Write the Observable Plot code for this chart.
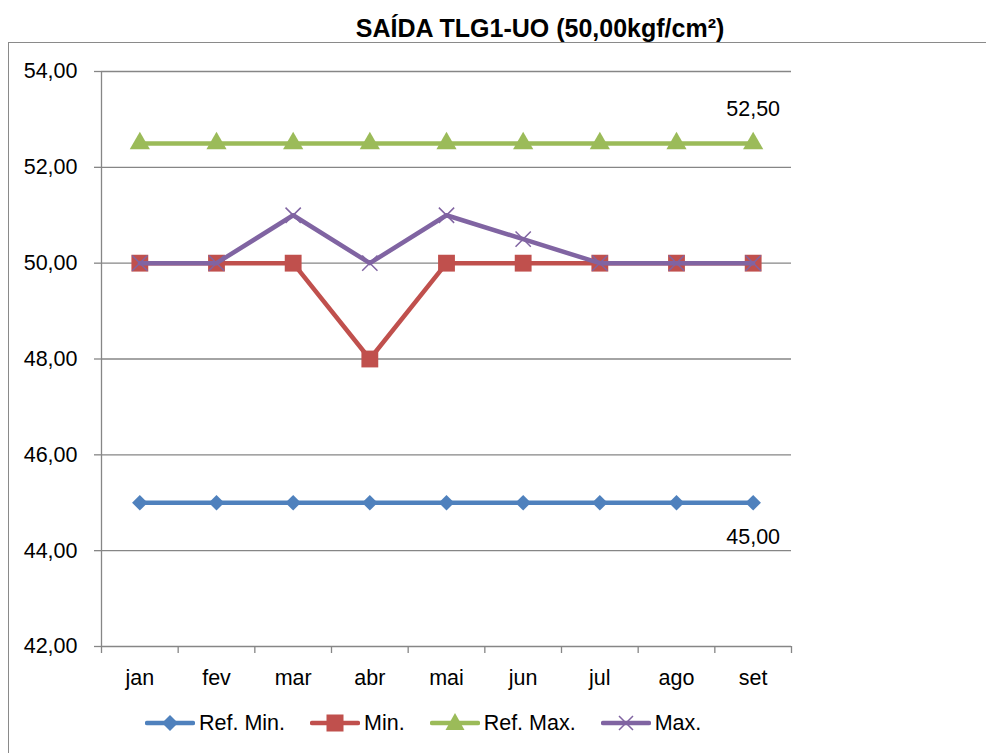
<!DOCTYPE html>
<html>
<head>
<meta charset="utf-8">
<script src="https://cdn.jsdelivr.net/npm/d3@7"></script>
<script src="https://cdn.jsdelivr.net/npm/@observablehq/plot@0.6"></script>
<style>
  html, body { margin: 0; padding: 0; background: #fff; }
  #wrap { position: relative; width: 986px; height: 753px; overflow: hidden; font-family: "Liberation Sans", Arial, sans-serif; }
  #frame { position: absolute; left: 8px; top: 42px; width: 1200px; height: 1000px; border-left: 1.5px solid #8a8a8a; border-top: 1.5px solid #8a8a8a; }
  #title { position: absolute; left: 540px; top: 16px; transform: translateX(-50%); font-weight: bold; font-size: 25px; line-height: 25px; white-space: nowrap; color: #000; }
  #chart { position: absolute; left: 0; top: 0; }
  #legend { position: absolute; left: 145px; top: 710px; display: flex; align-items: center; font-size: 21.5px; line-height: 26px; color: #000; }
  .item { display: flex; align-items: center; margin-right: 25px; }
  .item svg { margin-right: 4px; }
</style>
</head>
<body>
<div id="wrap">
  <div id="frame"></div>
  <div id="chart"></div>
  <div id="title">SAÍDA TLG1-UO (50,00kgf/cm²)</div>
  <div id="legend"></div>
</div>
<script>
const months = ["jan", "fev", "mar", "abr", "mai", "jun", "jul", "ago", "set"];
const refMin = [45, 45, 45, 45, 45, 45, 45, 45, 45];
const minVals = [50, 50, 50, 48, 50, 50, 50, 50, 50];
const refMax = [52.5, 52.5, 52.5, 52.5, 52.5, 52.5, 52.5, 52.5, 52.5];
const maxVals = [50, 50, 51, 50, 51, 50.5, 50, 50, 50];
const yTicks = [42, 44, 46, 48, 50, 52, 54];

const seriesNames = ["Ref. Min.", "Min.", "Ref. Max.", "Max."];
const seriesColors = ["#4F81BD", "#C0504D", "#9BBB59", "#8064A2"];

const fmt = v => v.toFixed(2).replace(".", ",");
const rows = vals => vals.map((v, i) => ({x: i + 0.5, y: v, m: months[i]}));

const sRefMin = rows(refMin), sMin = rows(minVals), sRefMax = rows(refMax), sMax = rows(maxVals);
const LW = 4.5;

const chart = Plot.plot({
  width: 986, height: 753,
  marginLeft: 101, marginRight: 195, marginTop: 71, marginBottom: 107,
  style: {fontFamily: "Liberation Sans, Arial, sans-serif", fontSize: "21.5px", background: "transparent", color: "#000", overflow: "visible"},
  x: {type: "linear", domain: [0, months.length]},
  y: {domain: [42, 54]},
  marks: [
    Plot.ruleY(yTicks, {stroke: "#868686", strokeWidth: 1.3}),
    Plot.ruleX([0], {stroke: "#868686", strokeWidth: 1.3}),
    Plot.axisY({ticks: yTicks, tickSize: 7, tickPadding: 17, tickFormat: fmt, stroke: "#868686", fill: "#000", label: null, strokeWidth: 1.3}),
    Plot.axisX({ticks: d3.range(months.length + 1), tickSize: 7, tickFormat: () => "", stroke: "#868686", label: null, strokeWidth: 1.3}),
    Plot.axisX({ticks: months.map((m, i) => i + 0.5), tickSize: 0, tickPadding: 23, tickFormat: v => months[Math.floor(v)], fill: "#000", label: null}),
    Plot.line(sRefMin, {x: "x", y: "y", stroke: seriesColors[0], strokeWidth: LW}),
    Plot.dot(sRefMin, {x: "x", y: "y", symbol: "diamond2", r: 7, fill: seriesColors[0]}),
    Plot.line(sMin, {x: "x", y: "y", stroke: seriesColors[1], strokeWidth: LW}),
    Plot.dot(sMin, {x: "x", y: "y", symbol: "square", r: 9.5, fill: seriesColors[1]}),
    Plot.line(sRefMax, {x: "x", y: "y", stroke: seriesColors[2], strokeWidth: LW}),
    Plot.dot(sRefMax, {x: "x", y: "y", symbol: "triangle", r: 7.5, fill: seriesColors[2]}),
    Plot.line(sMax, {x: "x", y: "y", stroke: seriesColors[3], strokeWidth: LW}),
    Plot.dot(sMax, {x: "x", y: "y", symbol: "times", r: 7, stroke: seriesColors[3], strokeWidth: 1.5}),
    Plot.text(sRefMax.slice(-1), {x: "x", y: "y", text: d => fmt(d.y), dy: -34, fill: "#000"}),
    Plot.text(sRefMin.slice(-1), {x: "x", y: "y", text: d => fmt(d.y), dy: 34.5, fill: "#000"})
  ]
});
document.getElementById("chart").appendChild(chart);

// Legend
const symbolPaths = [
  '<path d="M25,-8 L33,0 L25,8 L17,0 Z" />',
  '<rect x="16.5" y="-8.5" width="17" height="17" />',
  '<path d="M25,-10 L34.5,7 L15.5,7 Z" />',
  '<path d="M18,-7 L32,7 M18,7 L32,-7" fill="none" stroke-width="1.5" />'
];
const legend = document.getElementById("legend");
seriesNames.forEach((name, i) => {
  const c = seriesColors[i];
  const item = document.createElement("div");
  item.className = "item";
  const sym = symbolPaths[i].replace("<path", `<path fill="${i === 3 ? "none" : c}" stroke="${i === 3 ? c : "none"}"`).replace("<rect", `<rect fill="${c}"`);
  item.innerHTML = `<svg width="50" height="26" viewBox="0 -13 50 26"><line x1="2" y1="0" x2="48" y2="0" stroke="${c}" stroke-width="${LW}" stroke-linecap="round"/>${sym}</svg><span>${name}</span>`;
  legend.appendChild(item);
});
</script>
</body>
</html>
